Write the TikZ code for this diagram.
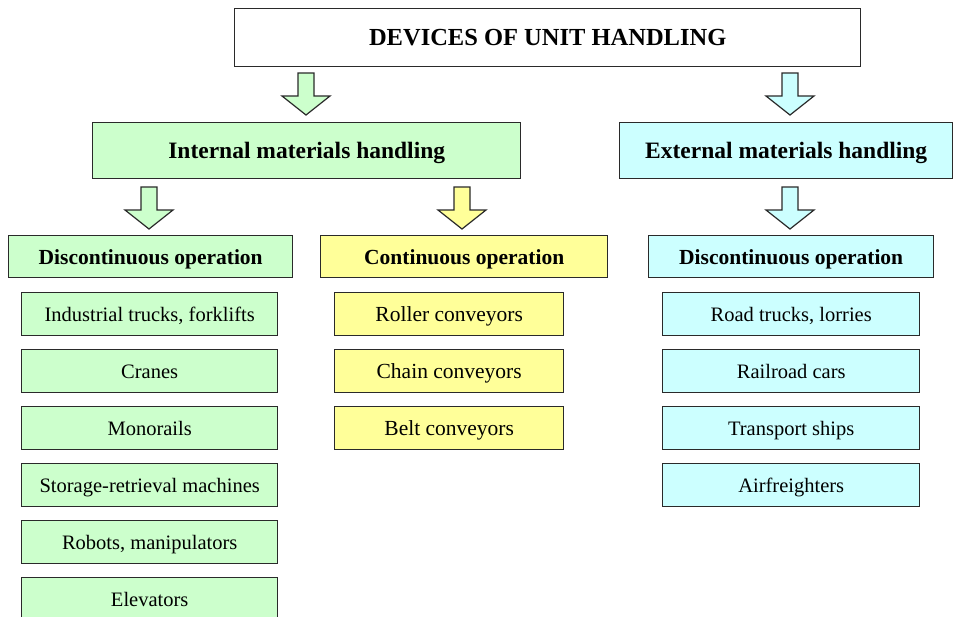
\documentclass[tikz,border=0pt]{standalone}
\usepackage{fontspec}
\setmainfont{Liberation Serif}
\definecolor{gfill}{HTML}{CCFFCC}
\definecolor{yfill}{HTML}{FFFF99}
\definecolor{cfill}{HTML}{CCFFFF}
\definecolor{edge}{HTML}{2A2A2A}
\newcommand\blockarr[3]{%
  \draw[fill=#3, draw=edge, line width=1.2pt, line join=miter]
    ({#1-8},{#2}) -- ({#1+8},{#2}) -- ({#1+8},{#2+23}) -- ({#1+24},{#2+23})
    -- ({#1},{#2+42}) -- ({#1-24},{#2+23}) -- ({#1-8},{#2+23}) -- cycle;}
\begin{document}
\begin{tikzpicture}[x=1pt,y=-1pt,
  box/.style={draw=edge, line width=1.4pt, rectangle, inner sep=0pt, anchor=north west, align=center, text depth=0pt},
  ttl/.style={box, font=\fontsize{23.5}{26}\selectfont\bfseries, text height=16.5pt},
  hdr/.style={box, font=\fontsize{21.5}{24}\selectfont\bfseries, text height=15pt},
  itm/.style={box, font=\fontsize{20.5}{24}\selectfont, minimum width=256pt, minimum height=43pt, text height=14.5pt},
  yitm/.style={box, font=\fontsize{21.5}{24}\selectfont, minimum width=229pt, minimum height=43pt, text height=15pt}]
\useasboundingbox (0,0) rectangle (956,616);
\fill[white] (0,0) rectangle (956,616);
% top
\node[ttl, fill=white, minimum width=626pt, minimum height=58pt, font=\fontsize{24.5}{27}\selectfont\bfseries] (top) at (234,8) {DEVICES OF UNIT HANDLING};
% second level
\node[ttl, fill=gfill, minimum width=428pt, minimum height=56pt] (int) at (92,122) {Internal materials handling};
\node[ttl, fill=cfill, minimum width=333pt, minimum height=56pt] (ext) at (619,122) {External materials handling};
% third level
\node[hdr, fill=gfill, minimum width=284pt, minimum height=42pt] (dl) at (8,235) {Discontinuous operation};
\node[hdr, fill=yfill, minimum width=287pt, minimum height=42pt] (cl) at (320,235) {Continuous operation};
\node[hdr, fill=cfill, minimum width=285pt, minimum height=42pt] (dr) at (648,235) {Discontinuous operation};
% green items
\node[itm, fill=gfill] (g1) at (21,292) {Industrial trucks, forklifts};
\node[itm, fill=gfill] (g2) at (21,349) {Cranes};
\node[itm, fill=gfill] (g3) at (21,406) {Monorails};
\node[itm, fill=gfill] (g4) at (21,463) {Storage-retrieval machines};
\node[itm, fill=gfill] (g5) at (21,520) {Robots, manipulators};
\node[itm, fill=gfill] (g6) at (21,577) {Elevators};
% yellow items
\node[yitm, fill=yfill] (y1) at (334,292) {Roller conveyors};
\node[yitm, fill=yfill] (y2) at (334,349) {Chain conveyors};
\node[yitm, fill=yfill] (y3) at (334,406) {Belt conveyors};
% cyan items
\node[itm, fill=cfill, minimum width=257pt] (c1) at (662,292) {Road trucks, lorries};
\node[itm, fill=cfill, minimum width=257pt] (c2) at (662,349) {Railroad cars};
\node[itm, fill=cfill, minimum width=257pt] (c3) at (662,406) {Transport ships};
\node[itm, fill=cfill, minimum width=257pt] (c4) at (662,463) {Airfreighters};
% block arrows
\blockarr{306}{73}{gfill}
\blockarr{790}{73}{cfill}
\blockarr{149}{187}{gfill}
\blockarr{462}{187}{yfill}
\blockarr{790}{187}{cfill}
\end{tikzpicture}
\end{document}
